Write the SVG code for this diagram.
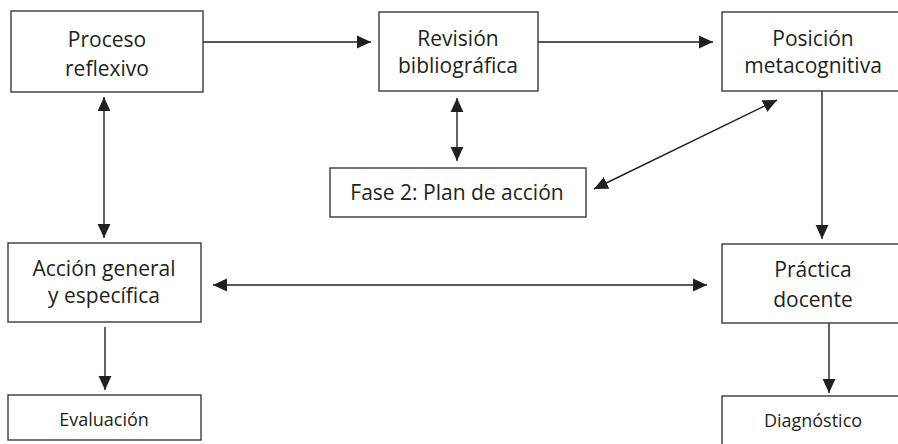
<svg xmlns="http://www.w3.org/2000/svg" width="898" height="444" viewBox="0 0 898 444">
<style>
.box{fill:#fff;stroke:#3a3a3a;stroke-width:1.4}
.t{font-family:"Open Sans","Noto Sans",sans-serif;font-size:21px;fill:#231f20;text-anchor:middle}
.s{font-family:"Open Sans","Noto Sans",sans-serif;font-size:18px;fill:#231f20;text-anchor:middle}
.c{stroke:#231f20;stroke-width:1.4;fill:none}
</style>
<defs>
<marker id="ah" markerUnits="userSpaceOnUse" markerWidth="14" markerHeight="14" viewBox="0 0 12 12" refX="12" refY="6" orient="auto-start-reverse">
<path d="M0,0.5 L12,6 L0,11.5 Z" fill="#231f20"/>
</marker>
</defs>
<rect width="898" height="444" fill="#fff"/>
<g id="connectors">
<line class="c" x1="203" y1="42" x2="371" y2="42" marker-end="url(#ah)"/>
<line class="c" x1="538" y1="42" x2="713" y2="42" marker-end="url(#ah)"/>
<line class="c" x1="457" y1="98" x2="457" y2="161" marker-start="url(#ah)" marker-end="url(#ah)"/>
<line class="c" x1="594" y1="189" x2="777" y2="100" marker-start="url(#ah)" marker-end="url(#ah)"/>
<line class="c" x1="104" y1="97" x2="104" y2="238" marker-start="url(#ah)" marker-end="url(#ah)"/>
<line class="c" x1="213" y1="285" x2="707" y2="285" marker-start="url(#ah)" marker-end="url(#ah)"/>
<line class="c" x1="822" y1="91" x2="822" y2="239" marker-end="url(#ah)"/>
<line class="c" x1="105" y1="327" x2="105" y2="390" marker-end="url(#ah)"/>
<line class="c" x1="829" y1="323" x2="829" y2="393" marker-end="url(#ah)"/>
</g>
<g id="proceso">
<rect class="box" x="11" y="11" width="192" height="81"/>
<text class="t" x="107" y="47">Proceso</text>
<text class="t" x="107" y="76">reflexivo</text>
</g>
<g id="revision">
<rect class="box" x="379" y="12" width="159" height="79"/>
<text class="t" x="458" y="46">Revisión</text>
<text class="t" x="458" y="73">bibliográfica</text>
</g>
<g id="posicion">
<rect class="box" x="722" y="12" width="185" height="79"/>
<text class="t" x="813" y="46">Posición</text>
<text class="t" x="813" y="73">metacognitiva</text>
</g>
<g id="fase2">
<rect class="box" x="330" y="168" width="256" height="49"/>
<text class="t" x="457" y="200">Fase 2: Plan de acción</text>
</g>
<g id="accion">
<rect class="box" x="8" y="243" width="193" height="79"/>
<text class="t" x="104" y="276">Acción general</text>
<text class="t" x="104" y="303">y específica</text>
</g>
<g id="practica">
<rect class="box" x="722" y="244" width="185" height="79"/>
<text class="t" x="813" y="277">Práctica</text>
<text class="t" x="813" y="307">docente</text>
</g>
<g id="evaluacion">
<rect class="box" x="8" y="395" width="193" height="45"/>
<text class="s" x="104" y="426">Evaluación</text>
</g>
<g id="diagnostico">
<rect class="box" x="722" y="396" width="185" height="60"/>
<text class="s" x="813" y="427">Diagnóstico</text>
</g>
</svg>
